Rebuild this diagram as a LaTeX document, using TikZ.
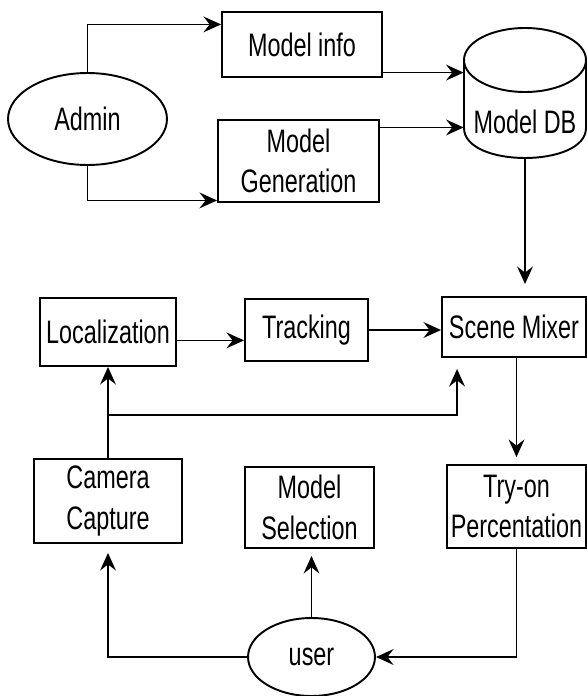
\documentclass[tikz,border=0pt]{standalone}
\usepackage{fontspec}
\setmainfont{Liberation Sans}[FakeStretch=0.72]
\usepackage{tikz}
\usetikzlibrary{arrows.meta,calc,shapes.geometric}
\tikzstyle{blk}=[rectangle,draw=black,line width=1.1pt,inner sep=0pt,align=center]
\tikzstyle{actor}=[ellipse,draw=black,line width=1.1pt,inner sep=0pt]
\tikzstyle{none}=[inner sep=0pt]
\tikzstyle{flow}=[line width=1pt,-{Stealth[length=10pt,width=9pt,inset=3.5pt]}]

\begin{document}
\begin{tikzpicture}[x=0.02cm, y=-0.02cm, font=\fontsize{18.5}{23}\selectfont]
            \useasboundingbox (0,0) rectangle (587,696);
            % admin side
            \node [style=actor, minimum width=3.18cm, minimum height=1.84cm] (admin) at (87.5, 119) {Admin};
            \node [style=blk, minimum width=3.2cm, minimum height=1.3cm] (info) at (302, 44.5) {Model info};
            \node [style=blk, minimum width=3.22cm, minimum height=1.64cm] (gen) at (298.5, 161) {Model\\Generation};
            \node [style=none, minimum width=2.44cm, minimum height=1.44cm] (db) at (525, 122) {Model DB};
            % pipeline
            \node [style=blk, minimum width=2.72cm, minimum height=1.36cm] (loc) at (108, 332) {Localization};
            \node [style=blk, minimum width=2.46cm, minimum height=1.24cm] (track) at (306.5, 330) {Tracking};
            \node [style=blk, minimum width=2.88cm, minimum height=1.2cm] (mix) at (514, 327) {Scene Mixer};
            \node [style=blk, minimum width=2.96cm, minimum height=1.68cm] (cam) at (108, 501) {Camera\\Capture};
            \node [style=blk, minimum width=2.58cm, minimum height=1.62cm] (sel) at (309.5, 507.5) {Model\\Selection};
            \node [style=blk, minimum width=2.78cm, minimum height=1.66cm] (try) at (516.5, 506.5) {Try-on\\Percentation};
            \node [style=actor, minimum width=2.54cm, minimum height=1.56cm] (user) at (311.5, 657) {user};
            % database drum
            \draw [line width=1.1pt] (525, 60) ellipse [x radius=61, y radius=32];
            \draw [line width=1.1pt] (464, 60) -- (464, 128) .. controls (464, 168) and (586, 168) .. (586, 128) -- (586, 60);
            \coordinate (infoin) at ($(info.north west)!0.2!(info.south west)$);
            \coordinate (genin) at ($(gen.north west)!0.97!(gen.south west)$);
            \coordinate (infoout) at ($(info.north east)!0.92!(info.south east)$);
            \coordinate (genout) at ($(gen.north east)!0.1!(gen.south east)$);
            \coordinate (locout) at ($(loc.north east)!0.62!(loc.south east)$);
            \coordinate (split) at ($(cam.north)!0.47!(loc.south)$);
            \draw [style=flow] (admin.north) |- (infoin);
            \draw [style=flow] (admin.south) |- (genin);
            \draw [style=flow] (infoout) to (infoout -| db.west);
            \draw [style=flow] (genout) to (genout -| db.west);
            \draw [style=flow, shorten >=0.24cm] (db.south) to (db.south |- mix.north);
            \draw [style=flow] (locout) to (locout -| track.west);
            \draw [style=flow] (track.east) to (track.east -| mix.west);
            \draw [style=flow] (cam.north) to (loc.south);
            \draw [style=flow, shorten >=0.22cm] (split) -| ($(mix.south west)+(16,0)$);
            \draw [style=flow, shorten >=0.14cm] (try.north |- mix.south) to (try.north);
            \draw [style=flow, shorten >=0.18cm] (user.west) -| (cam.south);
            \draw [style=flow, shorten >=0.14cm] (user.north) to (user.north |- sel.south);
            \draw [style=flow] (try.south) |- (user.east);
    \end{tikzpicture}
\end{document}
